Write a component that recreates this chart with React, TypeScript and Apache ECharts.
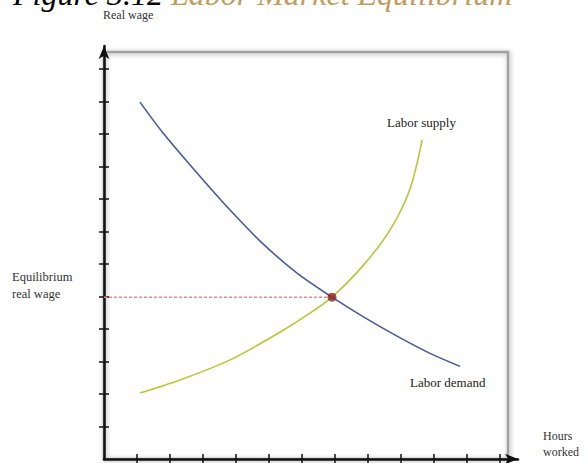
import React, { useEffect, useRef } from "react";
import * as echarts from "echarts";

// Tick positions (hours worked / real wage units)
const hourTicks = [1, 2, 3, 4, 5, 6, 7, 8, 9, 10, 11, 12];
const wageTicks = [1, 2, 3, 4, 5, 6, 7, 8, 9, 10, 11, 12];

// Labor demand curve
const demandX = [1.09, 1.79, 2.82, 3.82, 4.82, 5.85, 6.91, 7.85, 8.88, 9.88, 10.79];
const demandY = [10.98, 10.03, 8.8, 7.66, 6.62, 5.72, 4.98, 4.38, 3.78, 3.25, 2.85];

// Labor supply curve
const supplyX = [1.09, 2.3, 3.82, 5.33, 6.33, 6.91, 7.85, 8.67, 9.27, 9.64];
const supplyY = [2.03, 2.43, 3.05, 3.9, 4.55, 4.98, 5.95, 7.05, 8.3, 9.82];

// Equilibrium
const eqX = 6.91;
const eqY = 4.98;

const X_MAX = 414 / 33;
const Y_MAX = 413 / 32.5;

const SERIF = '"Liberation Serif", "Times New Roman", serif';

export default function App() {
  const ref = useRef<HTMLDivElement>(null);

  useEffect(() => {
    if (!ref.current) return;
    const chart = echarts.init(ref.current, null, { renderer: "svg" });

    const axisBase = {
      type: "value" as const,
      min: 0,
      splitLine: { show: false },
      axisLabel: { show: false },
    };

    chart.setOption({
      animation: false,
      backgroundColor: "#ffffff",
      grid: { left: 104, top: 46, width: 414, height: 413, containLabel: false },
      xAxis: [
        {
          ...axisBase,
          max: X_MAX,
          position: "bottom",
          axisLine: {
            show: true,
            symbol: ["none", "arrow"],
            symbolSize: [8, 13],
            lineStyle: { color: "#111", width: 2.5 },
          },
          axisTick: {
            show: true,
            inside: false,
            length: 5,
            customValues: hourTicks,
            lineStyle: { color: "#111", width: 1.5 },
          },
        },
        {
          ...axisBase,
          max: X_MAX,
          position: "bottom",
          axisLine: { show: false },
          axisTick: {
            show: true,
            inside: true,
            length: 5,
            customValues: hourTicks,
            lineStyle: { color: "#111", width: 1.5 },
          },
        },
      ],
      yAxis: [
        {
          ...axisBase,
          max: Y_MAX,
          position: "left",
          axisLine: {
            show: true,
            symbol: ["none", "arrow"],
            symbolSize: [8, 13],
            lineStyle: { color: "#111", width: 2.5 },
          },
          axisTick: {
            show: true,
            inside: false,
            length: 5,
            customValues: wageTicks,
            lineStyle: { color: "#111", width: 1.5 },
          },
        },
        {
          ...axisBase,
          max: Y_MAX,
          position: "left",
          axisLine: { show: false },
          axisTick: {
            show: true,
            inside: true,
            length: 5,
            customValues: wageTicks,
            lineStyle: { color: "#111", width: 1.5 },
          },
        },
      ],
      graphic: [
        {
          type: "rect",
          shape: { x: 104, y: 52, width: 404, height: 407 },
          z: -1,
          style: {
            fill: "none",
            stroke: "#a0a0a0",
            lineWidth: 2.5,
            shadowBlur: 5,
            shadowColor: "rgba(0,0,0,0.35)",
            shadowOffsetX: 1,
            shadowOffsetY: 1,
          },
        },
        {
          type: "text",
          x: 13,
          y: -22,
          style: {
            text: "{a|Figure 3.12 }{b|Labor Market Equilibrium}",
            rich: {
              a: { fontFamily: SERIF, fontStyle: "italic", fontSize: 32, fill: "#000" },
              b: { fontFamily: SERIF, fontStyle: "italic", fontSize: 32, fill: "#c29b5e" },
            },
          },
        },
        {
          type: "text",
          x: 103,
          y: 15,
          style: {
            text: "Real wage",
            font: `12px ${SERIF}`,
            fill: "#333",
            verticalAlign: "middle",
          },
        },
        {
          type: "text",
          x: 12,
          y: 285,
          style: {
            text: "Equilibrium\nreal wage",
            font: `12.5px ${SERIF}`,
            fill: "#333",
            lineHeight: 17,
            verticalAlign: "middle",
          },
        },
        {
          type: "text",
          x: 387,
          y: 122,
          style: {
            text: "Labor supply",
            font: `13px ${SERIF}`,
            fill: "#222",
            verticalAlign: "middle",
          },
        },
        {
          type: "text",
          x: 410,
          y: 382,
          style: {
            text: "Labor demand",
            font: `13px ${SERIF}`,
            fill: "#222",
            verticalAlign: "middle",
          },
        },
        {
          type: "text",
          x: 543,
          y: 428,
          style: {
            text: "Hours\nworked",
            font: `12px ${SERIF}`,
            fill: "#333",
            lineHeight: 16,
            verticalAlign: "top",
          },
        },
      ],
      series: [
        {
          type: "line",
          xAxisIndex: 0,
          yAxisIndex: 0,
          data: [
            [0, eqY],
            [eqX, eqY],
          ],
          symbol: "none",
          lineStyle: { color: "#e58c8c", width: 1.5, type: [3, 2] },
          z: 1,
        },
        {
          type: "line",
          name: "Labor demand",
          xAxisIndex: 0,
          yAxisIndex: 0,
          data: demandX.map((x, i) => [x, demandY[i]]),
          smooth: 0.3,
          symbol: "none",
          lineStyle: { color: "#4c5a98", width: 1.6 },
          z: 2,
        },
        {
          type: "line",
          name: "Labor supply",
          xAxisIndex: 0,
          yAxisIndex: 0,
          data: supplyX.map((x, i) => [x, supplyY[i]]),
          smooth: 0.3,
          symbol: "none",
          lineStyle: { color: "#b8c736", width: 1.6 },
          z: 2,
        },
        {
          type: "scatter",
          xAxisIndex: 0,
          yAxisIndex: 0,
          data: [[eqX, eqY]],
          symbolSize: 9,
          itemStyle: { color: "#8a1f1f" },
          z: 3,
        },
      ],
    });

    return () => chart.dispose();
  }, []);

  return (
    <div
      ref={ref}
      style={{ position: "absolute", left: 0, top: 0, width: 588, height: 463, overflow: "hidden" }}
    />
  );
}
